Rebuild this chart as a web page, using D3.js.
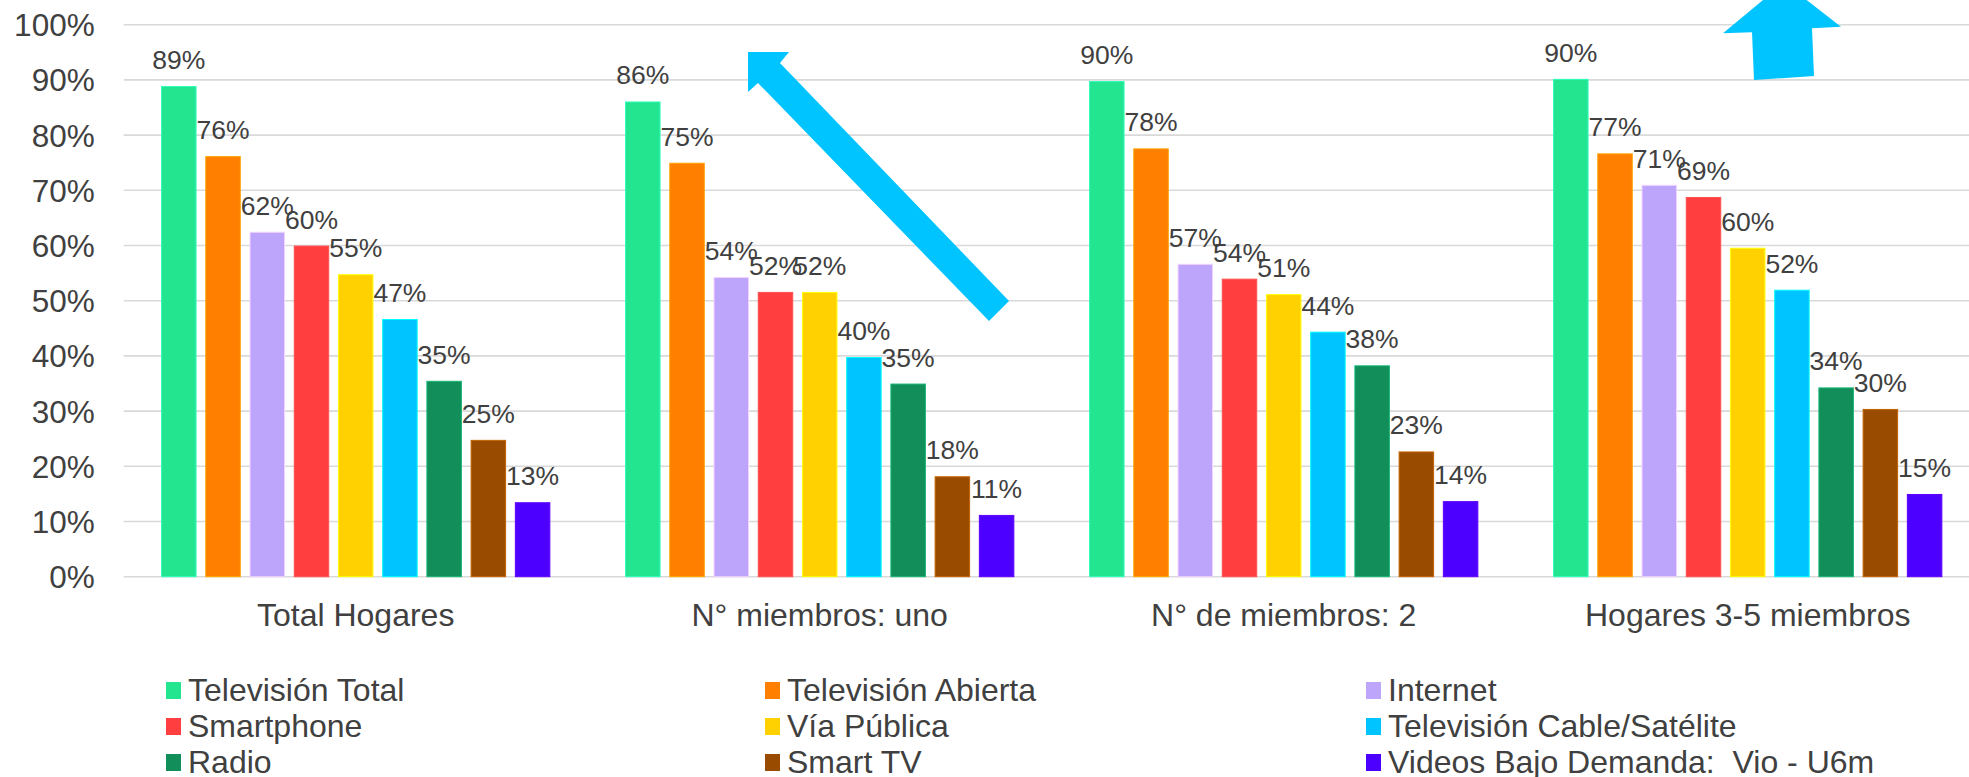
<!doctype html>
<html lang="es">
<head>
  <meta charset="utf-8">
  <title>Medios por tipo de hogar</title>
  <style type="text/css">
    body{ margin:0; background:#fff; }
    text{
      font-family: "Liberation Sans", Arial, Helvetica, sans-serif;
      fill:#404040;
      white-space: pre;
    }
    .grid line{ stroke:#d9d9d9; stroke-width:1.6px; }
    .axis path, .axis line{ display:none; }
  </style>
</head>
<body>
  <div id="vis"></div>
  <script src="https://cdn.jsdelivr.net/npm/d3@7"></script>
  <script type="text/javascript">

    // grupos del eje x
    var groups = ['Total Hogares', 'N° miembros: uno', 'N° de miembros: 2', 'Hogares 3-5 miembros'];

    // series (orden de barras y leyenda)
    var series = ['Televisión Total', 'Televisión Abierta', 'Internet', 'Smartphone', 'Vía Pública',
      'Televisión Cable/Satélite', 'Radio', 'Smart TV', 'Videos Bajo Demanda:  Vio - U6m'];

    var colors = ['#23e590', '#ff7f00', '#bea5fc', '#ff3f3f', '#ffd100', '#00c4ff', '#118e5a', '#994c00', '#4c00ff'];

    // valores por serie, un valor por grupo (proporcion)
    var tvTotal    = [0.888, 0.860, 0.897, 0.901];
    var tvAbierta  = [0.761, 0.749, 0.775, 0.766];
    var internet   = [0.624, 0.542, 0.566, 0.709];
    var smartphone = [0.599, 0.515, 0.539, 0.687];
    var viaPublica = [0.547, 0.515, 0.511, 0.595];
    var tvCable    = [0.466, 0.397, 0.443, 0.519];
    var radio      = [0.354, 0.349, 0.382, 0.342];
    var smartTv    = [0.247, 0.181, 0.226, 0.303];
    var videos     = [0.134, 0.111, 0.136, 0.149];

    var yTicks = [0, 0.1, 0.2, 0.3, 0.4, 0.5, 0.6, 0.7, 0.8, 0.9, 1];

    // flechas de anotacion: [posicion en unidades de grupo, porcentaje]
    var arrowA = [[1.3455, 0.9505], [1.4338, 0.9505], [1.4144, 0.9306], [1.9080, 0.4995],
      [1.8649, 0.4632], [1.3670, 0.8944], [1.3455, 0.8781]];
    var arrowB = [[3.5783, 1.0764], [3.7011, 0.9964], [3.6386, 0.9935], [3.6429, 0.9071],
      [3.5136, 0.8998], [3.5093, 0.9862], [3.4468, 0.9844]];

    var values = [tvTotal, tvAbierta, internet, smartphone, viaPublica, tvCable, radio, smartTv, videos];

    var width = 1969, height = 777;
    var plotLeft = 123.7, plotTop = 24.7, plotBottom = 576.7, groupWidth = 464;

    var svg = d3.select('#vis').append('svg')
      .attr('width', width)
      .attr('height', height);

    var x0 = d3.scaleBand().domain(groups)
      .range([plotLeft, plotLeft + groups.length * groupWidth]);

    var x1 = d3.scaleBand().domain(series)
      .range([33, groupWidth - 33])
      .paddingInner(0.22)
      .paddingOuter(0.11);

    var xg = d3.scaleLinear().domain([0, groups.length])
      .range([plotLeft, plotLeft + groups.length * groupWidth]);

    var y = d3.scaleLinear().domain([0, 1]).range([plotBottom, plotTop]);

    var color = d3.scaleOrdinal().domain(series).range(colors);

    // lineas de cuadricula
    svg.append('g').attr('class', 'grid')
      .selectAll('line').data(yTicks).enter().append('line')
      .attr('x1', plotLeft)
      .attr('x2', width)
      .attr('y1', function(d){ return y(d); })
      .attr('y2', function(d){ return y(d); });

    // eje y
    var yAxis = d3.axisLeft(y)
      .tickValues(yTicks)
      .tickFormat(d3.format('.0%'))
      .tickSize(0)
      .tickPadding(29);

    svg.append('g').attr('class', 'axis')
      .attr('transform', 'translate(' + plotLeft + ',0)')
      .call(yAxis)
      .call(function(g){
        g.attr('font-family', null).attr('font-size', null);
        g.selectAll('text')
          .attr('font-size', 31.5)
          .attr('fill', '#404040')
          .attr('dy', '0.35em');
      });

    // barras
    var rows = [];
    groups.forEach(function(g, gi){
      series.forEach(function(s, si){
        rows.push({group: g, serie: s, value: values[si][gi]});
      });
    });

    var bars = svg.append('g').selectAll('g').data(rows).enter().append('g')
      .attr('transform', function(d){ return 'translate(' + x0(d.group) + ',0)'; });

    bars.append('rect')
      .attr('x', function(d){ return x1(d.serie); })
      .attr('width', x1.bandwidth())
      .attr('y', function(d){ return y(d.value); })
      .attr('height', function(d){ return y(0) - y(d.value); })
      .style('fill', function(d){ return color(d.serie); })
      .style('stroke', function(d){ return d3.color(color(d.serie)).brighter(0.7); })
      .style('stroke-width', 1);

    bars.append('text')
      .attr('x', function(d){ return x1(d.serie) + x1.bandwidth() / 2; })
      .attr('y', function(d){ return y(d.value) - 17.5; })
      .attr('text-anchor', 'middle')
      .attr('font-size', 26.5)
      .text(function(d){ return d3.format('.0%')(d.value); });

    // etiquetas de grupos
    svg.append('g').selectAll('text').data(groups).enter().append('text')
      .attr('x', function(d){ return x0(d) + x0.bandwidth() / 2; })
      .attr('y', 626)
      .attr('text-anchor', 'middle')
      .attr('font-size', 32)
      .text(function(d){ return d; });

    // flechas
    var arrowLine = d3.line()
      .x(function(d){ return xg(d[0]); })
      .y(function(d){ return y(d[1]); });

    svg.append('g').selectAll('path').data([arrowA, arrowB]).enter().append('path')
      .attr('d', function(d){ return arrowLine(d) + 'Z'; })
      .style('fill', '#00c4ff');

    // leyenda
    var legendCols = [166, 765, 1366], legendRows = [701, 737, 773];

    var legend = svg.append('g').selectAll('g').data(series).enter().append('g')
      .attr('transform', function(d, i){
        return 'translate(' + legendCols[i % 3] + ',' + legendRows[Math.floor(i / 3)] + ')';
      });

    legend.append('rect')
      .attr('x', 0)
      .attr('y', -19)
      .attr('width', 15)
      .attr('height', 17)
      .style('fill', function(d){ return color(d); });

    legend.append('text')
      .attr('x', 22)
      .attr('y', 0)
      .attr('font-size', 32)
      .text(function(d){ return d; });

  </script>
</body>
</html>
